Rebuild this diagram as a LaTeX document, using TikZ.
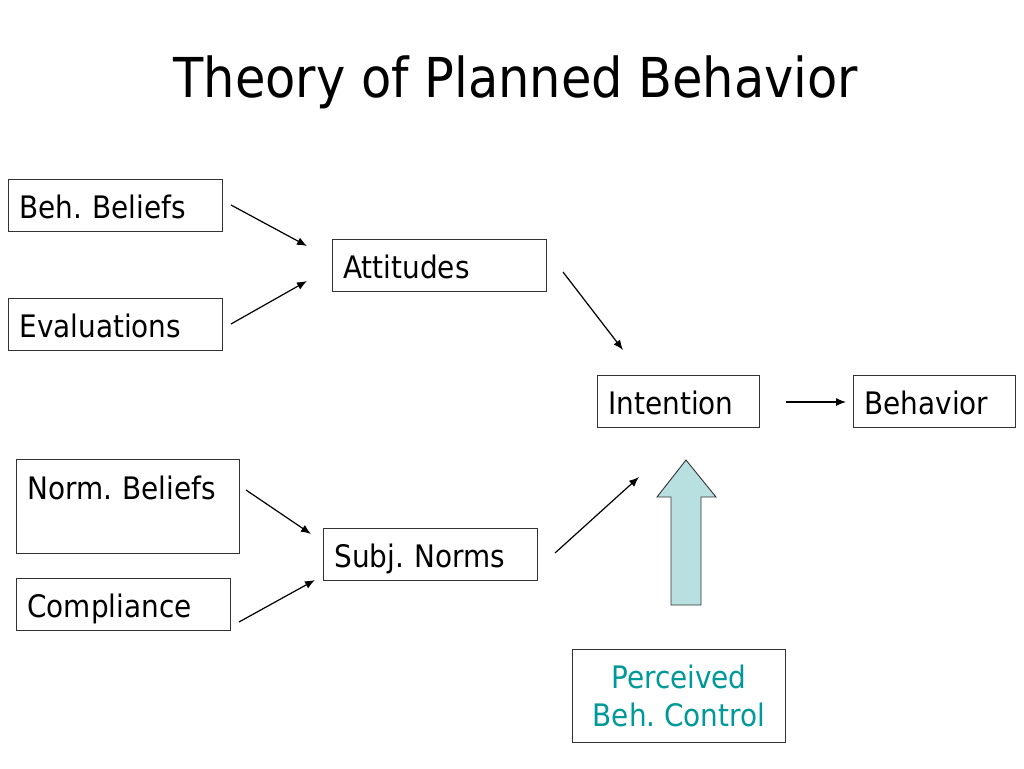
\documentclass[tikz,border=0pt]{standalone}
\usepackage{fontspec}
\setmainfont{DejaVu Sans Condensed}
\usetikzlibrary{arrows.meta}
\definecolor{teal2}{HTML}{009999}
\definecolor{arrfill}{HTML}{B9E0E0}
\definecolor{edge}{HTML}{333333}
\frenchspacing
\begin{document}
\begin{tikzpicture}[x=1pt,y=-1pt,
  box/.style={draw=edge, line width=0.9pt, anchor=north west, inner xsep=11pt, inner ysep=0pt,
    text height=27pt, text depth=0pt, minimum height=52pt, align=left,
    font=\fontsize{31}{39}\selectfont},
  conn/.style={line width=1.2pt, -{Latex[length=10pt,width=8pt]}}]
\useasboundingbox (0,0) rectangle (1024,768);
\node[font=\fontsize{55}{66}\selectfont, anchor=base] (title) at (516,97) {Theory of Planned Behavior};

\node[box, text width=192pt] (bb) at (8,179) {Beh. Beliefs};
\node[box, text width=192pt] (ev) at (8,298) {Evaluations};
\node[box, text width=192pt] (att) at (332,239) {Attitudes};
\node[box, text width=140pt] (int) at (597,375) {Intention};
\node[box, text width=140pt] (beh) at (853,375) {Behavior};
\node[box, text width=201pt, inner ysep=13pt, text depth=41pt] (nb) at (16,459) {Norm. Beliefs};
\node[box, text width=192pt] (comp) at (16,578) {Compliance};
\node[box, text width=192pt] (sn) at (323,528) {Subj. Norms};
\node[draw=edge, line width=0.9pt, anchor=north west, minimum width=213pt, minimum height=93pt,
  align=center, text=teal2, inner sep=0pt, font=\fontsize{31}{38}\selectfont] (pbc) at (572,649) {Perceived\\Beh. Control};

\coordinate (a1s) at (231,205); \coordinate (a1e) at (307,246);
\coordinate (a2s) at (231,324); \coordinate (a2e) at (307,281);
\coordinate (a3s) at (563,272); \coordinate (a3e) at (623,350);
\coordinate (a4s) at (786,402); \coordinate (a4e) at (846,402);
\coordinate (a5s) at (246,490); \coordinate (a5e) at (311,534);
\coordinate (a6s) at (239,622); \coordinate (a6e) at (315,580);
\coordinate (a7s) at (555,553); \coordinate (a7e) at (639,477);

\draw[conn] (a1s) -- (a1e);
\draw[conn] (a2s) -- (a2e);
\draw[conn] (a3s) -- (a3e);
\draw[conn] (a4s) -- (a4e);
\draw[conn] (a5s) -- (a5e);
\draw[conn] (a6s) -- (a6e);
\draw[conn] (a7s) -- (a7e);

\draw[draw=edge, fill=arrfill, line width=0.9pt, line join=miter]
  (671,605) -- (671,497) -- (657,497) -- (686,460) -- (716,497) -- (701,497) -- (701,605) -- cycle;
\end{tikzpicture}
\end{document}
